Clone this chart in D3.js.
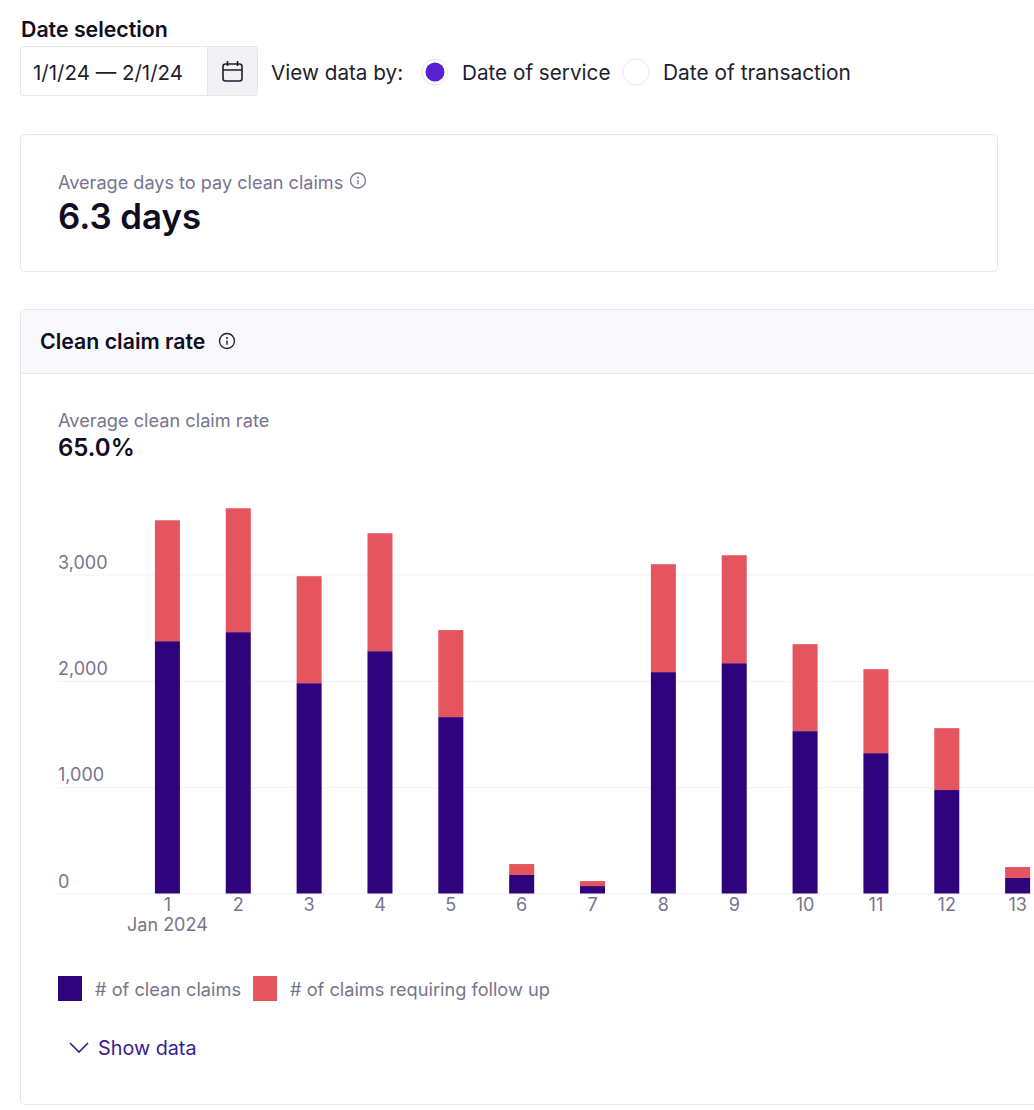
<!DOCTYPE html>
<html lang="en">
    <head>
        <meta charset="UTF-8" />
        <title>Clean claim rate</title>
        <script src="https://cdn.jsdelivr.net/npm/d3@7"></script>
        <style>
            body {
                margin: 0;
                background: #fff;
                overflow: hidden;
            }

            svg {
                display: block;
            }

            text {
                font-family: Inter, 'Noto Sans', sans-serif;
            }

            .muted {
                fill: #77758c;
            }

            .dark {
                fill: #1f1d2e;
            }

            .strong {
                fill: #0f0d1f;
            }

            .axis text {
                font-size: 18px;
                fill: #77758c;
            }
        </style>
    </head>
    <body>
        <svg width="1034" height="1110"></svg>
        <script>
            var days = ['1', '2', '3', '4', '5', '6', '7', '8', '9', '10', '11', '12', '13'];
            var cleanClaims = [2373, 2458, 1978, 2279, 1659, 174, 70, 2082, 2166, 1527, 1320, 973, 146];
            var followUpClaims = [1137, 1165, 1006, 1109, 818, 103, 47, 1015, 1015, 818, 790, 582, 103];
            var yTicks = [0, 1000, 2000, 3000];
            var seriesNames = ['# of clean claims', '# of claims requiring follow up'];
            var seriesColors = ['#2e037c', '#e4555f'];

            var svg = d3.select('svg');
            var border = '#e6e6ee';

            function label(x, y, str, cls, size, weight) {
                return svg
                    .append('text')
                    .attr('x', x)
                    .attr('y', y)
                    .attr('class', cls)
                    .style('font-size', size + 'px')
                    .style('font-weight', weight || 400)
                    .text(str);
            }

            function infoIcon(cx, cy, color) {
                var g = svg.append('g').attr('transform', 'translate(' + cx + ',' + cy + ')');
                g.append('circle').attr('r', 7.5).attr('fill', 'none').attr('stroke', color).attr('stroke-width', 1.3);
                g.append('circle').attr('cy', -3).attr('r', 1).attr('fill', color);
                g.append('path').attr('d', 'M0,-0.5V3.8').attr('stroke', color).attr('stroke-width', 1.4);
            }

            // date picker
            label(21, 37, 'Date selection', 'strong', 21.3, 600);
            svg.append('rect').attr('x', 20.5).attr('y', 46.5).attr('width', 237).attr('height', 49)
                .attr('rx', 2).attr('fill', '#fff').attr('stroke', border);
            svg.append('rect').attr('x', 208).attr('y', 47).attr('width', 49).attr('height', 48).attr('fill', '#f2f2f6');
            svg.append('path').attr('d', 'M207.5,47V95').attr('stroke', border);
            label(33, 79.5, '1/1/24 — 2/1/24', 'dark', 20.5);

            var cal = svg.append('g').attr('fill', 'none').attr('stroke', '#1f1d2e').attr('stroke-width', 1.6);
            cal.append('rect').attr('x', 223).attr('y', 64).attr('width', 19).attr('height', 17).attr('rx', 2.5);
            cal.append('path').attr('d', 'M223,70H242M227.5,61V66M237.5,61V66');

            // view data by
            label(271, 79.5, 'View data by:', 'dark', 20.7);
            svg.append('circle').attr('cx', 435).attr('cy', 72).attr('r', 13).attr('fill', '#fff').attr('stroke', border);
            svg.append('circle').attr('cx', 435).attr('cy', 72).attr('r', 9.5).attr('fill', '#5a1fd1');
            label(462, 79.5, 'Date of service', 'dark', 20.7);
            svg.append('circle').attr('cx', 636).attr('cy', 72).attr('r', 13).attr('fill', '#fff').attr('stroke', border);
            label(663, 79.5, 'Date of transaction', 'dark', 20.9);

            // days to pay card
            svg.append('rect').attr('x', 20.5).attr('y', 134.5).attr('width', 977).attr('height', 137)
                .attr('rx', 4).attr('fill', '#fff').attr('stroke', border);
            label(58, 189, 'Average days to pay clean claims', 'muted', 18.1);
            infoIcon(358, 180.5, '#77758c');
            label(58, 229, '6.3 days', 'strong', 34.8, 600);

            // clean claim rate card
            svg.append('rect').attr('x', 20.5).attr('y', 309.5).attr('width', 1100).attr('height', 795)
                .attr('rx', 4).attr('fill', '#fff').attr('stroke', border);
            svg.append('path').attr('d', 'M21,373V314a4,4 0 0 1 4,-4H1034V373Z').attr('fill', '#f9f9fb');
            svg.append('path').attr('d', 'M21,373.5H1034').attr('stroke', border);
            label(40, 348.5, 'Clean claim rate', 'strong', 21.3, 600);
            infoIcon(227, 341, '#1f1d2e');
            label(58, 426.5, 'Average clean claim rate', 'muted', 18.2);
            label(58, 456, '65.0%', 'strong', 24, 600);

            // chart
            var x = d3.scaleBand().domain(days).range([132, 1053.05]).paddingInner(0.647).paddingOuter(0.3235);
            var y = d3.scaleLinear().domain([0, 3000]).range([893.5, 574.5]);

            var rows = days.map(function(d, i) {
                return { day: d, clean: cleanClaims[i], followUp: followUpClaims[i] };
            });
            var stacked = d3.stack().keys(['clean', 'followUp'])(rows);

            var yAxis = d3.axisRight(y).tickValues(yTicks).tickSize(1034 - 58).tickFormat(d3.format(','));
            svg.append('g')
                .attr('class', 'axis')
                .attr('transform', 'translate(58,0)')
                .call(yAxis)
                .call(function(g) {
                    g.select('.domain').remove();
                    g.selectAll('.tick line').attr('stroke', '#f1f1f5');
                    g.selectAll('.tick text').attr('x', 0).attr('dy', -6.5).attr('text-anchor', 'start');
                });

            svg.append('g')
                .selectAll('g')
                .data(stacked)
                .join('g')
                .attr('fill', function(d, i) {
                    return seriesColors[i];
                })
                .selectAll('rect')
                .data(function(d) {
                    return d;
                })
                .join('rect')
                .attr('x', function(d) {
                    return x(d.data.day);
                })
                .attr('y', function(d) {
                    return y(d[1]);
                })
                .attr('width', x.bandwidth())
                .attr('height', function(d) {
                    return y(d[0]) - y(d[1]);
                });

            var xAxis = d3.axisBottom(x).tickSize(0).tickPadding(5);
            svg.append('g')
                .attr('class', 'axis')
                .attr('transform', 'translate(0,893.5)')
                .call(xAxis)
                .call(function(g) {
                    g.select('.domain').remove();
                });

            svg.append('text')
                .attr('x', x('1') + x.bandwidth() / 2)
                .attr('y', 931)
                .attr('text-anchor', 'middle')
                .attr('class', 'muted')
                .style('font-size', '18px')
                .text('Jan 2024');

            // legend
            var legendX = [58, 253];
            seriesNames.forEach(function(name, i) {
                svg.append('rect').attr('x', legendX[i]).attr('y', 976).attr('width', 24).attr('height', 25)
                    .attr('fill', seriesColors[i]);
                label(legendX[i] + 37, 995.5, name, 'muted', 18.2);
            });

            // show data toggle
            svg.append('path').attr('d', 'M70,1043L79,1052L88,1043').attr('fill', 'none')
                .attr('stroke', '#3b1a8f').attr('stroke-width', 1.6);
            label(98, 1054.5, 'Show data', '', 19.8).attr('fill', '#3b1a8f');
        </script>
    </body>
</html>
